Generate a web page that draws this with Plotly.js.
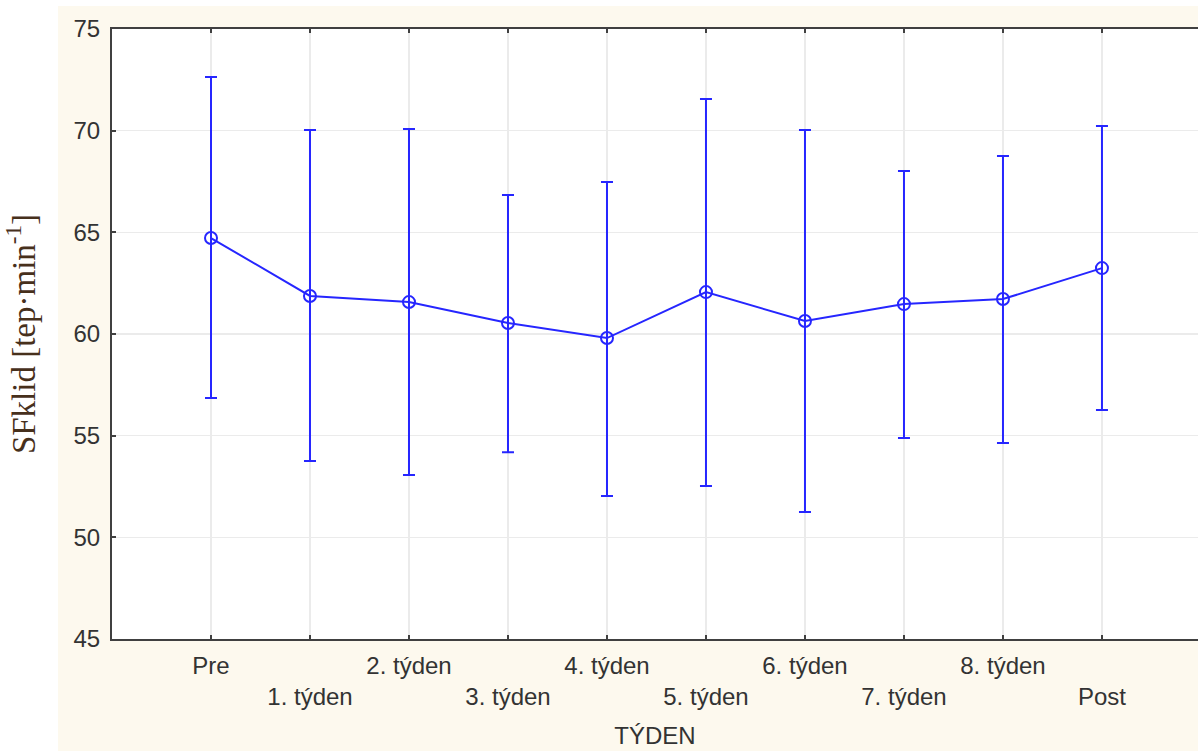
<!DOCTYPE html>
<html>
<head>
<meta charset="utf-8">
<script src="https://cdn.plot.ly/plotly-3.0.1.min.js"></script>
<style>
  html, body { margin: 0; padding: 0; background: #ffffff; }
  #chart { width: 1198px; height: 751px; }
</style>
</head>
<body>
<div id="chart"></div>
<script>
// ---- data ----
const categories = ['Pre', '1. týden', '2. týden', '3. týden', '4. týden', '5. týden', '6. týden', '7. týden', '8. týden', 'Post'];
const means = [64.72, 61.87, 61.57, 60.54, 59.80, 62.06, 60.64, 61.47, 61.72, 63.24];
const upper = [72.64, 70.03, 70.08, 66.83, 67.47, 71.56, 70.03, 68.02, 68.75, 70.23];
const lower = [56.85, 53.75, 53.06, 54.19, 52.03, 52.52, 51.24, 54.88, 54.64, 56.26];
const yTicks = [45, 50, 55, 60, 65, 70, 75];
const xTitle = 'TÝDEN';
const yTitle = 'SFklid [tep·min<sup>-1</sup>]';

// staggered tick labels: every second label on a lower row
const tickLabels = categories.map((c, i) => (i % 2 === 1 ? '<br>' + c : c));

const errPlus = upper.map((u, i) => u - means[i]);
const errMinus = lower.map((l, i) => means[i] - l);

const blue = '#2626ff';
const trace = {
  type: 'scatter',
  mode: 'lines+markers',
  x: categories,
  y: means,
  line: { color: blue, width: 2 },
  marker: { symbol: 'circle-open', size: 12, color: blue, line: { width: 2, color: blue } },
  error_y: {
    type: 'data',
    symmetric: false,
    array: errPlus,
    arrayminus: errMinus,
    color: blue,
    thickness: 2,
    width: 6
  },
  hoverinfo: 'x+y'
};

const axisColor = '#404040';
const tickFont = { family: 'Arial, "Liberation Sans", sans-serif', size: 24, color: '#333333' };

const layout = {
  width: 1198,
  height: 751,
  margin: { l: 112, r: 0, t: 29, b: 112 },
  paper_bgcolor: '#fdf9ee',
  plot_bgcolor: '#ffffff',
  showlegend: false,
  xaxis: {
    type: 'category',
    categoryorder: 'array',
    categoryarray: categories,
    range: [-1, 9.97],
    tickmode: 'array',
    tickvals: categories,
    ticktext: tickLabels,
    tickfont: tickFont,
    ticks: 'inside',
    ticklen: 4,
    tickwidth: 2,
    tickcolor: axisColor,
    ticklabelstandoff: 4,
    showline: true,
    linecolor: axisColor,
    linewidth: 2,
    mirror: 'ticks',
    showgrid: true,
    gridcolor: '#ebebeb',
    gridwidth: 1.5,
    zeroline: false,
    title: { text: xTitle, font: { family: 'Arial, "Liberation Sans", sans-serif', size: 24, color: '#333333' }, standoff: 18 }
  },
  yaxis: {
    range: [45, 75],
    tickmode: 'array',
    tickvals: yTicks,
    tickfont: tickFont,
    ticks: 'inside',
    ticklen: 4,
    tickwidth: 2,
    tickcolor: axisColor,
    ticklabelstandoff: 5,
    showline: true,
    linecolor: axisColor,
    linewidth: 2,
    showgrid: true,
    gridcolor: '#ebebeb',
    gridwidth: 1.5,
    zeroline: false,
    title: { text: yTitle, font: { family: '"Liberation Serif", "Times New Roman", serif', size: 33, color: '#47301c' }, standoff: 28 }
  },
  shapes: [
    // white strip on the left of the cream panel
    { type: 'rect', xref: 'paper', yref: 'paper', x0: -0.11, x1: -0.0497, y0: -0.2, y1: 1.06, fillcolor: '#ffffff', line: { width: 0 }, layer: 'below' },
    // thin white strip at the top
    { type: 'rect', xref: 'paper', yref: 'paper', x0: -0.11, x1: 1.01, y0: 1.0377, y1: 1.06, fillcolor: '#ffffff', line: { width: 0 }, layer: 'below' }
  ]
};

Plotly.newPlot('chart', [trace], layout, { displayModeBar: false, staticPlot: true });
</script>
</body>
</html>
